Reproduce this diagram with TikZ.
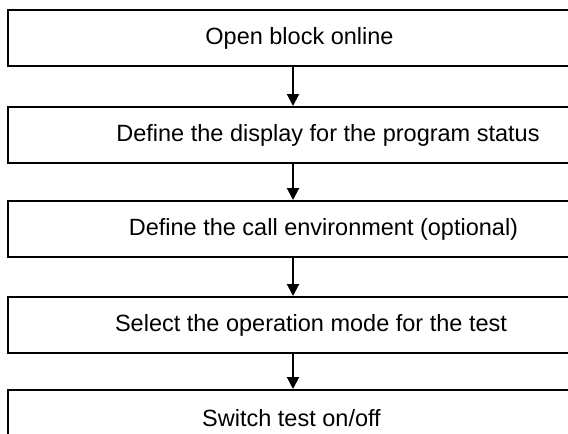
\documentclass[tikz,border=0pt]{standalone}
\usepackage{fontspec}
\setmainfont{Liberation Sans}
\usetikzlibrary{arrows.meta}

\begin{document}
\begin{tikzpicture}[x=1pt, y=1pt, >={Triangle[width=12pt,length=12pt]},
  etape/.style={draw, line width=2pt, minimum width=570pt, minimum height=56pt,
    inner sep=0pt, font=\fontsize{23.5}{28}\selectfont},
  fleche/.style={->, line width=2pt}]
\useasboundingbox (0,0) rectangle (568,-434);
\clip (0,0) rectangle (568,-434);
\foreach \i/\y/\s/\txt in {1/38/13/{Open block online},
    2/135/70/{Define the display for the program status},
    3/229/61/{Define the call environment (optional)},
    4/325/36/{Select the operation mode for the test},
    5/418/-3/{Switch test on/off}}
  {\node[etape] (e\i) at (293,-\y) {\hspace*{\s pt}\txt};}
\foreach \i [evaluate=\i as \j using int(\i+1)] in {1,...,4}
  {\draw[fleche] (e\i) -- (e\j);}
\end{tikzpicture}
\end{document}
